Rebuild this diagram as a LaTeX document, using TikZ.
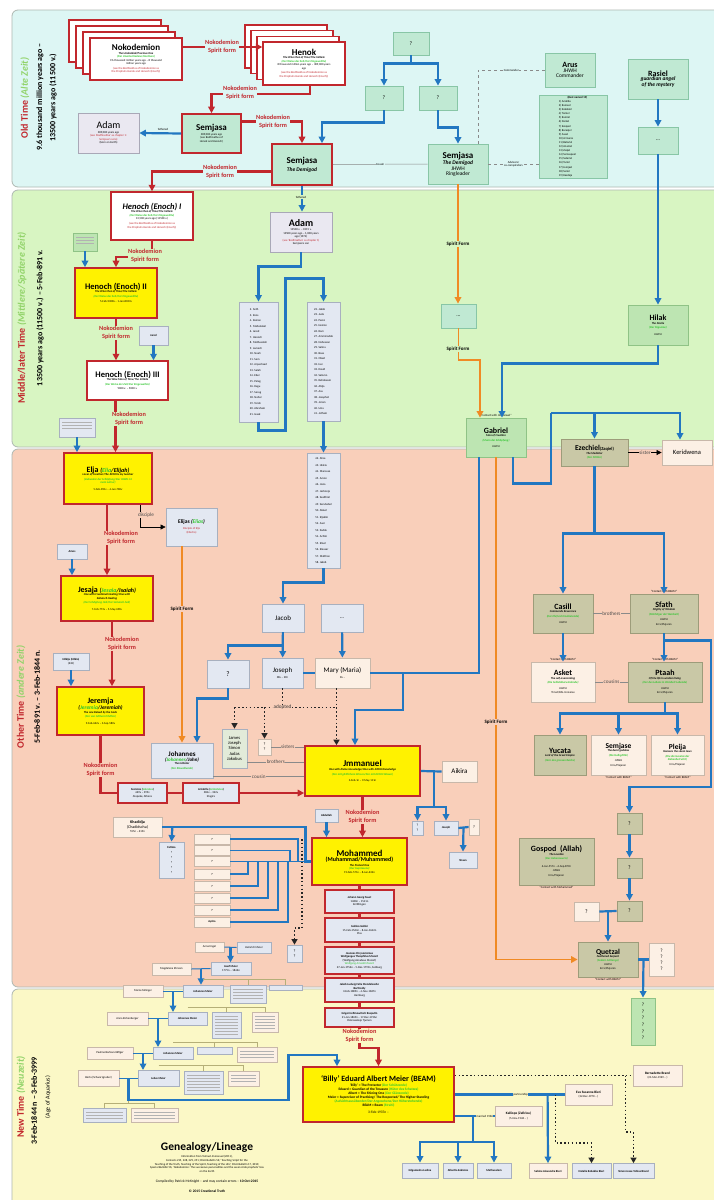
\documentclass[tikz,border=0pt]{standalone}
\usepackage{fontspec}
\setmainfont{Carlito}
\usepackage{tikz}
\usetikzlibrary{arrows.meta, calc}
\definecolor{oldfill}{HTML}{DDF6F4}
\definecolor{midfill}{HTML}{D8F5C2}
\definecolor{othfill}{HTML}{F9CFBA}
\definecolor{newfill}{HTML}{FBF8C6}
\definecolor{bandline}{HTML}{AEB8B2}
\definecolor{redline}{HTML}{C1272D}
\definecolor{grn}{HTML}{2EC52E}
\definecolor{ltgrn}{HTML}{92D36A}
\definecolor{yelfill}{HTML}{FFF200}
\definecolor{tealfill}{HTML}{C0E9D3}
\definecolor{tealline}{HTML}{88C6A6}
\definecolor{grnfill}{HTML}{BDE5B2}
\definecolor{grnline}{HTML}{8FC386}
\definecolor{khfill}{HTML}{C9C8A6}
\definecolor{khline}{HTML}{9D9C7A}
\definecolor{crfill}{HTML}{FCF0E5}
\definecolor{crline}{HTML}{C8B8AA}
\definecolor{bgfill}{HTML}{E3E8F2}
\definecolor{bgline}{HTML}{A8B0BF}
\definecolor{lavfill}{HTML}{EAE8F1}
\definecolor{lavline}{HTML}{A9A8B7}
\definecolor{jamfill}{HTML}{E2EBD9}
\definecolor{bluline}{HTML}{2277C1}
\definecolor{orline}{HTML}{F08A24}
\definecolor{relgray}{HTML}{8A8A8A}
\definecolor{tanline}{HTML}{B5AF78}
\newcommand{\fH}{\fontsize{9}{10}\selectfont\bfseries}
\newcommand{\fM}{\normalfont\fontsize{8}{9}\selectfont\bfseries}
\newcommand{\fs}{\normalfont\fontsize{5.5}{6.5}\selectfont}
\newcommand{\ti}{\normalfont\fontsize{2.9}{3.5}\selectfont}
\newcommand{\tbi}{\ti\bfseries\itshape}
\newcommand{\tg}[1]{{\color{grn}#1}}
\newcommand{\tr}[1]{{\color{redline}#1}}
\tikzset{
  band/.style   = {rounded corners=6pt, draw=bandline, line width=0.8pt},
  bx/.style     = {rectangle, align=center, inner sep=1pt, line width=0.8pt, font=\fontsize{2.9}{3.5}\selectfont},
  redbx/.style  = {bx, draw=redline, line width=1.4pt, fill=white},
  redbg/.style  = {bx, draw=redline, line width=1.4pt, fill=bgfill},
  yelbx/.style  = {bx, draw=redline, line width=1.7pt, fill=yelfill},
  semred/.style = {bx, draw=redline, line width=1.6pt, fill=tealfill},
  tealbx/.style = {bx, draw=tealline, fill=tealfill},
  grnbx/.style  = {bx, draw=grnline, fill=grnfill},
  khbx/.style   = {bx, draw=khline, fill=khfill},
  crbx/.style   = {bx, draw=crline, fill=crfill},
  bgbx/.style   = {bx, draw=bgline, fill=bgfill},
  lavbx/.style  = {bx, draw=lavline, fill=lavfill},
  fake/.style   = {path picture={\foreach \j in {1,...,#1}{
      \draw[black!30, line width=0.6pt] ($(path picture bounding box.north west)+(3,1+3*\j)$)
        -- ($(path picture bounding box.north east)+(-3,1+3*\j)$);}}},
  sfl/.style    = {align=center, inner sep=0.5pt, text=redline, font=\bfseries\fontsize{6.3}{7.6}\selectfont},
  sfk/.style    = {inner sep=0.5pt, font=\bfseries\fontsize{5}{6}\selectfont},
  tl/.style     = {inner sep=0.5pt, align=center, font=\fontsize{3}{3.5}\selectfont},
  relbl/.style  = {inner sep=0.5pt, text=black!70, font=\fontsize{5.2}{6}\selectfont},
  bline/.style  = {draw=bluline, line width=2.2pt},
  bflow/.style  = {bline, -{Triangle[length=6.5pt, width=6.5pt]}},
  rline/.style  = {draw=redline, line width=2.1pt},
  rflow/.style  = {rline, -{Triangle[length=6.5pt, width=6.5pt]}},
  oflow/.style  = {draw=orline, line width=1.9pt, -{Triangle[length=6.5pt, width=6.5pt]}},
  rel/.style    = {draw=relgray, line width=0.5pt},
  dline/.style  = {draw=black!85, line width=1.5pt, dash pattern=on 1.5pt off 2.3pt},
  dflow/.style  = {dline, -{Triangle[length=5.5pt, width=6pt]}},
  tline/.style  = {draw=tanline, line width=0.8pt},
  cbeam/.style  = {label={[tl]above:``Contact with BEAM''}},
  cbeamb/.style = {label={[tl]below:``Contact with BEAM''}},
}
\begin{document}
\begin{tikzpicture}[x=1pt, y=-1pt]
\useasboundingbox (0,0) rectangle (714,1200);
\fill[white] (0,0) rectangle (714,1200);
% time bands
\draw[band, fill=oldfill] (12,10) rectangle (744,187);
\draw[band, fill=midfill] (12,190) rectangle (744,447);
\draw[band, fill=othfill] (12,449) rectangle (744,987);
\draw[band, fill=newfill] (12,989) rectangle (744,1230);
% band titles
\node[rotate=90, font=\bfseries\fontsize{10}{12}\selectfont] (tOld) at (25,98) {\textcolor{redline}{Old Time} \textcolor{ltgrn}{\itshape(Alte Zeit)}};
\node[rotate=90, font=\bfseries\fontsize{8}{9.5}\selectfont] (dOld1) at (40,97) {9.6 thousand million years ago –};
\node[rotate=90, font=\bfseries\fontsize{8}{9.5}\selectfont] (dOld2) at (53,98) {13500 years ago (11500 v.)};
\node[rotate=90, font=\bfseries\fontsize{10}{12}\selectfont] (tMid) at (22,318) {\textcolor{redline}{Middle/later Time} \textcolor{ltgrn}{\itshape(Mittlere/Spätere Zeit)}};
\node[rotate=90, font=\bfseries\fontsize{8}{9.5}\selectfont] (dMid) at (40,318) {13500 years ago (11500 v.) – 5-Feb-891 v.};
\node[rotate=90, font=\bfseries\fontsize{10}{12}\selectfont] (tOth) at (21,697) {\textcolor{redline}{Other Time} \textcolor{ltgrn}{\itshape(andere Zeit)}};
\node[rotate=90, font=\bfseries\fontsize{8}{9.5}\selectfont] (dOth) at (37,697) {5-Feb-891 v. – 3-Feb-1844 n.};
\node[rotate=90, font=\bfseries\fontsize{10}{12}\selectfont] (tNew) at (21,1097) {\textcolor{redline}{New Time} \textcolor{ltgrn}{\itshape(Neuzeit)}};
\node[rotate=90, font=\bfseries\fontsize{8}{9.5}\selectfont] (dNew) at (34,1101) {3-Feb-1844 n – 3-Feb-3999};
\node[rotate=90, font=\fontsize{6}{7}\selectfont] (aNew) at (48,1097) {(Age of Aquarius)};

% ---------- Old Time ----------
\foreach \k in {3,2,1}
  \node[redbx, minimum width=92, minimum height=42] (nok\k) at ({136-7*\k},{59-6*\k}) {};
\node[redbx, minimum width=92, minimum height=42] (nok) at (136,59)
  {\fH Nokodemion\\ \tbi The Undecided/Precious One\\ \tg{\tbi (Der Unentschiedene/Kostbare)}\\ \ti 9.6 thousand million years ago – 8 thousand\\ \ti million years ago\\[1pt] \tr{\ti (see the Bodhisattva of Nokodemion as}\\ \tr{\ti the Prophets Henok and Henoch (Enoch))}};
\foreach \k in {3,2,1}
  \node[redbx, minimum width=82, minimum height=43] (hen\k) at ({304-6*\k},{63.5-5.7*\k}) {};
\node[redbx, minimum width=82, minimum height=43] (henok) at (304,63.5)
  {\fH Henok\\ \tbi The Wise Man of Time/The Initiate\\ \tg{\tbi (Der Weise der Zeit/Der Eingeweihte)}\\ \ti 8 thousand million years ago – 389,000 years\\ \ti ago\\[1pt] \tr{\ti (see the Bodhisattva of Nokodemion as}\\ \tr{\ti the Prophets Henok and Henoch (Enoch))}};
\node[semred, minimum width=59, minimum height=39] (semA) at (211.5,133.5)
  {\fH Semjasa\\ \ti 389,000 years ago\\ \ti (see Bodhisattva of\\ \ti Henok and Henoch)};
\node[lavbx, minimum width=61, minimum height=40] (adamA) at (108.5,133)
  {{\fontsize{10}{11}\selectfont Adam}\\[1pt] \ti 389,000 years ago\\ \tr{\ti (see `Bodhisattva' as chapter 1:}\\ \tr{\ti Semjasa's sons)}\\ \ti (born on Earth)};
\node[semred, minimum width=60, minimum height=41] (semB) at (302,164.5)
  {\fH Semjasa\\[2pt] \fs\bfseries\itshape The Demigod};
\node[tealbx, minimum width=36, minimum height=23] (qtop) at (411,43.5) {\fs ?};
\node[tealbx, minimum width=38, minimum height=24] (qleft) at (384,98) {\fs ?};
\node[tealbx, minimum width=38, minimum height=24] (qright) at (438,98) {\fs ?};
\node[tealbx, minimum width=60, minimum height=40] (semC) at (458,164)
  {\fH Semjasa\\ \fs\bfseries\itshape The Demigod\\ \fs JHWH\\ \fs Ringleader};
\node[tealbx, minimum width=50, minimum height=34] (arus) at (570,70)
  {\fM Arus\\ \fs JHWH\\ \fs Commander};
\node[tealbx, minimum width=68, minimum height=83, align=left] (list19) at (573,136.5)
  {\ti\bfseries\quad\quad\quad (Best named 19)\\[0.6pt] \ti 1) Arakiba\\[0.6pt] \ti 2) Rameel\\[0.6pt] \ti 3) Kokabiel\\[0.6pt] \ti 4) Tamiel\\[0.6pt] \ti 5) Ramiel\\[0.6pt] \ti 6) Daniel\\[0.6pt] \ti 7) Ezeqeel\\[0.6pt] \ti 8) Baraqiel\\[0.6pt] \ti 9) Asael\\[0.6pt] \ti 10) Armaros\\[0.6pt] \ti 11) Batariel\\[0.6pt] \ti 12) Ananiel\\[0.6pt] \ti 13) Zaqiel\\[0.6pt] \ti 14) Samsapeel\\[0.6pt] \ti 15) Satariel\\[0.6pt] \ti 16) Turiel\\[0.6pt] \ti 17) Jomjael\\[0.6pt] \ti 18) Sariel\\[0.6pt] \ti 19) Kasdeja};
\node[tealbx, minimum width=60, minimum height=40] (rasiel) at (658,79)
  {\fM Rasiel\\ \fs\bfseries\itshape guardian angel\\ \fs\bfseries\itshape of the mystery};
\node[tealbx, minimum width=40, minimum height=27] (dotsA) at (658,140.5) {\fs ...};

% ---------- Middle/later Time ----------
\node[redbx, minimum width=82, minimum height=48] (henI) at (152,216)
  {{\fontsize{8.5}{9.5}\selectfont\bfseries\itshape Henoch (Enoch) I}\\ \tbi The Wise Man of Time/The Initiate\\ \tg{\tbi (Der Weise der Zeit/Der Eingeweihte)}\\ \ti 13,500 years ago (11500 v.)\\[1pt] \tr{\ti (see the Bodhisattva of Nokodemion as}\\[1pt] \tr{\ti the Prophets Henok and Henoch (Enoch))}};
\node[grnbx, minimum width=24, minimum height=18, fake=3] (kristan) at (85,242) {};
\node[yelbx, minimum width=82, minimum height=50] (henII) at (116,293)
  {{\fontsize{8.5}{9.5}\selectfont\bfseries Henoch (Enoch) II}\\ \tbi The Wise Man of Time/The Initiate\\[1pt] \tg{\tbi (Der Weise der Zeit/Der Eingeweihte)}\\[2pt] \ti 5-Feb-9308v – 1-Jan-8963v};
\node[bgbx, minimum width=29, minimum height=19] (jared) at (153.5,335.5) {\ti\bfseries Jared};
\node[redbx, minimum width=81, minimum height=39] (henIII) at (127.5,380.5)
  {{\fontsize{8.5}{9.5}\selectfont\bfseries Henoch (Enoch) III}\\ \tbi The Wise Man of Time/The Initiate\\[1pt] \tg{\tbi (Der Weise der Zeit/Der Eingeweihte)}\\[1pt] \ti 9000 v. – 5000 v.};
\node[bgbx, minimum width=36, minimum height=19, fake=3] (irad) at (77,427.5) {};
\node[lavbx, minimum width=62, minimum height=40] (adamB) at (301,232)
  {{\fontsize{10}{11}\selectfont\bfseries Adam}\\[1pt] \ti 13500 v. – 9415 v.\\ \ti 13500 years ago – 1,000 years\\ \ti ago (1974)\\ \tr{\ti (see `Bodhisattva' as chapter 1)}\\ \ti Semjasa's son};
\node[bgbx, minimum width=39, minimum height=120, align=left] (listA) at (258.5,362)
  {\ti 2. Seth\\[2pt] \ti 3. Enos\\[2pt] \ti 4. Kainan\\[2pt] \ti 5. Mahalaleel\\[2pt] \ti 6. Jared\\[2pt] \ti 7. Henoch\\[2pt] \ti 8. Methusalah\\[2pt] \ti 9. Lamech\\[2pt] \ti 10. Noah\\[2pt] \ti 11. Sem\\[2pt] \ti 12. Arpachsad\\[2pt] \ti 13. Salah\\[2pt] \ti 14. Eber\\[2pt] \ti 15. Peleg\\[2pt] \ti 16. Regu\\[2pt] \ti 17. Serug\\[2pt] \ti 18. Nahor\\[2pt] \ti 19. Terah\\[2pt] \ti 20. Abraham\\[2pt] \ti 21. Isaak};
\node[bgbx, minimum width=33, minimum height=119, align=left] (listB) at (323.5,361.5)
  {\ti 22. Jakob\\[2pt] \ti 23. Juda\\[2pt] \ti 24. Perez\\[2pt] \ti 25. Hezron\\[2pt] \ti 26. Ram\\[2pt] \ti 27. Amminadab\\[2pt] \ti 28. Nahesson\\[2pt] \ti 29. Salma\\[2pt] \ti 30. Boas\\[2pt] \ti 31. Obed\\[2pt] \ti 32. Isai\\[2pt] \ti 33. David\\[2pt] \ti 34. Salomo\\[2pt] \ti 35. Rehabeam\\[2pt] \ti 36. Abija\\[2pt] \ti 37. Asa\\[2pt] \ti 38. Josaphat\\[2pt] \ti 39. Joram\\[2pt] \ti 40. Usia\\[2pt] \ti 41. Jotham};
\node[tealbx, minimum width=35, minimum height=24] (dotsB) at (458.5,316) {\fs ...};
\node[grnbx, minimum width=60, minimum height=40] (hilak) at (658,325)
  {\fM Hilak\\ \tbi The Docile\\[1pt] \tg{\tbi (Der Fügsame)}\\[3pt] \ti JHWH};
\node[grnbx, minimum width=60, minimum height=39, label={[tl]above:``Contact with Jmmanuel''}] (gabriel) at (496,437.5)
  {\fM Gabriel\\ \tbi Man of Creation\\[1pt] \tg{\tbi (Mann der Schöpfung)}\\[3pt] \ti JHWH};

% ---------- Other Time ----------
\node[yelbx, minimum width=88, minimum height=51] (elja) at (108,478.5)
  {{\fontsize{8}{9}\selectfont\bfseries Elja {\itshape\fontsize{6}{7}\selectfont(\tg{Elia}/Elijah)}}\\ \tbi Lover of Creation/The JHWH is my teacher\\[1pt] \tg{\tbi (Liebender der Schöpfung/Der JHWH ist}\\ \tg{\tbi mein Lehrer)}\\[3pt] \ti 5-Feb-891v – 4-Jun-780v};
\node[bgbx, minimum width=51, minimum height=38] (elijas) at (191.5,527)
  {{\fontsize{5.5}{6.5}\selectfont\bfseries Elijas {\itshape(\tg{Elias})}}\\[2pt] \tr{\ti Disciple of Elja}\\[1pt] \tr{\ti (Elischa)}};
\node[bgbx, minimum width=30, minimum height=15] (amos) at (72,551.5) {\ti\bfseries Amos};
\node[yelbx, minimum width=92, minimum height=45] (jesaja) at (107,598.5)
  {{\fontsize{8}{9}\selectfont\bfseries Jesaja {\itshape\fontsize{6}{7}\selectfont(\tg{Jesaia}/Isaiah)}}\\ \tbi One with Creational Healing/One with\\ \tbi Sohaisch Healing\\[1pt] \tg{\tbi (Der Schöpfung Heil/Der Sohaisch-heil)}\\[3pt] \ti 7-Feb-773v – 5-May-690v};
\node[bgbx, minimum width=36, minimum height=17] (hilkija) at (71,661.5) {\ti\bfseries Hilkija (Hilkia)\\ \ti (632)};
\node[yelbx, minimum width=87, minimum height=48] (jeremja) at (100.5,711)
  {{\fontsize{8}{9}\selectfont\bfseries Jeremja}\\ {\fontsize{5.5}{6.5}\selectfont\bfseries\itshape (\tg{Jeremia}/Jeremiah)}\\ \tbi The one Raised by the Gods\\[1pt] \tg{\tbi (Der von Göttern Erhöhte)}\\[3pt] \ti 9-Feb-662v – 3-Sep-580v};
\node[bgbx, minimum width=33, minimum height=115, align=left] (listC) at (323.5,510.5)
  {\ti 42. Ahas\\[3pt] \ti 43. Hiskia\\[3pt] \ti 44. Manasse\\[3pt] \ti 45. Amon\\[3pt] \ti 46. Josia\\[3pt] \ti 47. Jechonja\\[3pt] \ti 48. Sealthiel\\[3pt] \ti 49. Serubabel\\[3pt] \ti 50. Abiud\\[3pt] \ti 51. Eljakim\\[3pt] \ti 52. Asor\\[3pt] \ti 53. Zadok\\[3pt] \ti 54. Achim\\[3pt] \ti 55. Eliud\\[3pt] \ti 56. Eleasar\\[3pt] \ti 57. Matthan\\[3pt] \ti 58. Jakob};
\node[bgbx, minimum width=42, minimum height=28] (jacob) at (283,618) {\fontsize{7}{8}\selectfont Jacob};
\node[bgbx, minimum width=42, minimum height=28] (dotsC) at (342,618) {\fs ...};
\node[bgbx, minimum width=42, minimum height=28] (qbox) at (228,674) {\fontsize{7}{8}\selectfont ?};
\node[bgbx, minimum width=41, minimum height=30] (joseph) at (282.5,673) {{\fontsize{7}{8}\selectfont Joseph}\\[3pt] \ti 38v – 29n};
\node[crbx, minimum width=55, minimum height=30] (mary) at (342.5,673) {{\fontsize{7}{8}\selectfont Mary (Maria)}\\[3pt] \ti 8v –};
\node[bx, draw=bgline, fill=jamfill, minimum width=25, minimum height=39, font=\fontsize{4.6}{5.4}\selectfont] (james) at (234.5,748.5)
  {James\\ Joseph\\ Simon\\ Judas\\ Jakobus};
\node[crbx, minimum width=13, minimum height=16, font=\fontsize{4}{5}\selectfont] (sisQ) at (264.5,747) {?\\ ?};
\node[yelbx, minimum width=115, minimum height=50] (jmmanuel) at (362.5,771)
  {{\fontsize{9}{10}\selectfont\bfseries Jmmanuel}\\[1pt] \tbi One with divine knowledge/One with JHWH Knowledge\\[1pt] \tg{\tbi (Der mit göttlichem Wissen/Der mit JHWH-Wissen)}\\[3pt] \ti 3-Feb-1n – 9-May-111n};
\node[bgbx, minimum width=62, minimum height=35] (johannes) at (182,760.5)
  {{\fontsize{7}{8}\selectfont\bfseries Johannes}\\ {\fontsize{5}{6}\selectfont\bfseries\itshape (\tg{Johannes}/John)}\\ \tbi The Initiator\\[1pt] \tg{\tbi (Der Einweihende)}};
\node[redbg, minimum width=49, minimum height=20] (sokrates) at (142.5,793)
  {\ti\bfseries Socrates (\tg{Sokrates})\\ \ti 469v – 399v\\ \ti Alopeke, Athens};
\node[redbg, minimum width=56, minimum height=20] (aristoteles) at (211,793)
  {\ti\bfseries Aristotle (\tg{Aristoteles})\\ \ti 384v – 322v\\ \ti Stagira};
\node[crbx, minimum width=35, minimum height=21] (aikira) at (459.5,771.5) {\fontsize{7}{8}\selectfont Aikira};
\node[bgbx, minimum width=11, minimum height=14, font=\fontsize{3.5}{4.5}\selectfont] (qq) at (417.5,828) {?\\ ?};
\node[bgbx, minimum width=24, minimum height=14] (josephB) at (446,828) {\ti\bfseries Joseph};
\node[crbx, minimum width=10, minimum height=16] (qs) at (474,827) {\fontsize{4}{5}\selectfont ?};
\node[bgbx, minimum width=28, minimum height=16] (shaan) at (463,860) {\ti\bfseries Shaan};
\node[bgbx, minimum width=23, minimum height=13] (abdullah) at (326.5,815.5) {\ti\bfseries Abdullah};
\node[yelbx, minimum width=95, minimum height=47] (mohammed) at (359.5,861.5)
  {{\fontsize{9}{10}\selectfont\bfseries Mohammed}\\ {\fontsize{6}{7}\selectfont\bfseries (Muhammad/Muhammed)}\\[1pt] \tbi The Praised One\\ \tg{\tbi (Der Gepriesene)}\\ \ti 19-Feb-571n – 8-Jun-632n};
\node[redbg, minimum width=69, minimum height=23] (faust) at (359.5,901.5)
  {\ti\bfseries Johann Georg Faust\\ \ti 1480n – 1541n\\ \ti Knittlingen};
\node[redbg, minimum width=69, minimum height=24] (galilei) at (359.5,930)
  {\ti\bfseries Galileo Galilei\\ \ti 15-Feb-1564n – 8-Jan-1642n\\ \ti Pisa};
\node[redbg, minimum width=69, minimum height=27] (mozart) at (359.5,960.5)
  {\ti\bfseries Joannes Chrysostomus\\ \ti\bfseries Wolfgangus Theophilus Mozart\\ \ti (Wolfgang Amadeus Mozart)\\ \tg{\ti Wolfgang Amadé Mozart}\\ \ti 27-Jan-1756n – 5-Dec-1791n, Salzburg};
\node[redbg, minimum width=69, minimum height=24] (mendelssohn) at (359.5,990)
  {\ti\bfseries Jakob Ludwig Felix Mendelssohn\\ \ti\bfseries Bartholdy\\ \ti 3-Feb-1809n – 4-Nov-1847n\\ \ti Hamburg};
\node[redbg, minimum width=69, minimum height=19] (rasputin) at (359.5,1017.5)
  {\ti\bfseries Grigori Jefimowitsch Rasputin\\ \ti 21-Jan-1869n – 17-Dec-1916n\\ \ti Pokrowskoje Tjumen};
\node[crbx, minimum width=49, minimum height=20] (khadidja) at (137.5,827)
  {{\fontsize{4}{5}\selectfont\bfseries Khadidja}\\ {\fontsize{4}{5}\selectfont (Chadidscha)}\\[1pt] \ti 555n – 619n};
\node[bgbx, minimum width=25, minimum height=36] (fatima) at (171.5,860)
  {\ti\bfseries Fatima\\[2pt] \ti ?\\[1.5pt] \ti ?\\[1.5pt] \ti ?\\[1.5pt] \ti ?\\[1.5pt] \ti ?};
\foreach \i/\yy/\nm in {1/839/?, 2/850.5/?, 3/861.5/?, 4/874/?, 5/886/?, 6/898/?, 7/910/?, 8/922/Aysha}
  \node[crbx, minimum width=36, minimum height=10] (w\i) at (212,\yy) {\ti\bfseries \nm};
\node[bgbx, minimum width=15, minimum height=17, font=\fontsize{4}{5}\selectfont] (qm) at (294.5,953.5) {?\\ ?};
% Ezechiel and his line
\node[khbx, minimum width=67, minimum height=27] (ezechiel) at (594.5,452.5)
  {{\fontsize{7.5}{8.5}\selectfont\bfseries Ezechiel}{\fontsize{4.5}{5}\selectfont\bfseries (Zaqiel)}\\ \tbi The Mediator\\[1pt] \tg{\tbi (Der Mittler)}};
\node[crbx, minimum width=50, minimum height=25] (keridwena) at (687,452.5) {\fontsize{6.5}{7.5}\selectfont Keridwena};
\node[khbx, minimum width=60, minimum height=39] (casill) at (563,613.5)
  {\fM Casill\\ \tbi Commands Reverence\\[1pt] \tg{\tbi (Der Ehrfurcht Gebietende)}\\[3pt] \ti JHWH};
\node[khbx, minimum width=68, minimum height=39, cbeam] (sfath) at (664,613.5)
  {\fM Sfath\\ \tbi Mighty of Wisdom\\[1pt] \tg{\tbi (Mächtiger der Weisheit)}\\[2pt] \ti JHWH\\[1pt] \ti Erra/Plejaren};
\node[crbx, minimum width=64, minimum height=40, cbeam] (asket) at (563,682)
  {\fM Asket\\ \tbi The self-overcoming\\[1pt] \tg{\tbi (Die Selbstüberwindende)}\\[2pt] \ti JHWH\\[1pt] \ti Timat/DAL Universe};
\node[khbx, minimum width=74, minimum height=40, cbeam] (ptaah) at (665,682)
  {\fM Ptaah\\ \tbi Of the life in wisdom living\\[1pt] \tg{\tbi (Der des Lebens in Weisheit Lebende)}\\[2pt] \ti JHWH\\[1pt] \ti Erra/Plejaren};
\node[khbx, minimum width=52, minimum height=40] (yucata) at (560,755)
  {\fM Yucata\\ \tbi Lord of the Great Empire\\[1pt] \tg{\tbi (Herr des grossen Reichs)}};
\node[crbx, minimum width=55, minimum height=40, cbeamb] (semjase) at (618.5,755)
  {{\fontsize{7.5}{8.5}\selectfont\bfseries Semjase}\\ \tbi The demi-goddess\\[1pt] \tg{\tbi (Die Halbgöttin)}\\[2pt] \ti JHWH\\[1pt] \ti Erra/Plejaren};
\node[crbx, minimum width=53, minimum height=40, cbeamb] (pleija) at (677.5,755)
  {{\fontsize{7.5}{8.5}\selectfont\bfseries Pleija}\\ \tbi Honours the seven laws\\[1pt] \tg{\tbi (Die die Gesetze der}\\ \tg{\tbi Siebenheit ehrt)}\\[1pt] \ti Erra/Plejaren};
\node[khbx, minimum width=25, minimum height=21] (qa) at (629.5,823.5) {\fs ?};
\node[khbx, minimum width=25, minimum height=20] (qb) at (629.5,868) {\fs ?};
\node[khbx, minimum width=25, minimum height=20] (qc) at (629.5,911) {\fs ?};
\node[crbx, minimum width=25, minimum height=19] (qw) at (586.5,911.5) {\fs ?};
\node[khbx, minimum width=75, minimum height=47, label={[tl]below:``Contact with Mohammed''}] (gospod) at (556.5,861.5)
  {\fM Gospod~~(Allah)\\ \tbi The Lovable\\[1pt] \tg{\tbi (Der Liebenswerte)}\\[4pt] \ti 6-Jan-557n – 6-Sep-879n\\[1pt] \ti JHWH\\[1pt] \ti Erra/Plejaren};
\node[khbx, minimum width=60, minimum height=35, cbeamb] (quetzal) at (608,959.5)
  {{\fontsize{7.5}{8.5}\selectfont\bfseries Quetzal}\\ \tbi Feathered Serpent\\ \tg{\tbi (Federn-Schlange)}\\[1pt] \ti JHWH\\ \ti Erra/Plejaren};
\node[crbx, minimum width=25, minimum height=33, font=\fontsize{5}{6}\selectfont] (q4) at (661.5,959.5) {?\\ ?\\ ?\\ ?};
\node[grnbx, minimum width=24, minimum height=47, font=\fontsize{5}{6.6}\selectfont] (q6) at (643,1021.5) {?\\ ?\\ ?\\ ?\\ ?\\ ?};

% Old Time connectors
\draw[rflow] ([yshift=12pt]nok.east) -- ([yshift=12pt]nok.east -| henok.west);
\node[sfl, fill=oldfill] (sf1) at (222,47) {Nokodemion\\Spirit form};
\draw[rflow] ([xshift=6pt]henok.south) -- ++(0,8) -| (semA.north);
\node[sfl, fill=oldfill] (sf2) at (240,93) {Nokodemion\\Spirit form};
\draw[bflow] (semA.west) -- (adamA.east);
\node[tl, fill=oldfill] (lfa1) at (163,129) {fathered};
\draw[rflow] ([yshift=12pt]semA.east) -| (semB.north);
\node[sfl, fill=oldfill] (sf3) at (273,121.5) {Nokodemion\\Spirit form};
\draw[rflow] ([yshift=-7pt]semB.west) -| (henI.north);
\node[sfl, fill=oldfill] (sf4) at (220,171.5) {Nokodemion\\Spirit form};
\draw[bflow] (qtop.south) -- ++(0,8) -| (qleft.north);
\draw[bflow] (qtop.south) -- ++(0,8) -| (qright.north);
\draw[bflow] (qleft.south) -- ++(0,12) -| ([xshift=20pt]semB.north);
\draw[bflow] (qright.south) -- ++(0,17) -| (semC.north);
\draw[rel] (semB.east) -- (semC.west) node[midway, tl, fill=oldfill] (lcous) {Cousin};
\draw[rel, dashed] ([xshift=20pt]semC.north) |- (arus.west) node[pos=0.75, tl, fill=oldfill] (lcom) {Commander};
\draw[rel, dashed] (semC.east) -- (semC.east -| list19.west) node[midway, tl, fill=oldfill] (ladv) {Advisors/\\co-conspirators};
\draw[bflow] (rasiel) -- (dotsA);

% Middle connectors
\draw[rflow] (henI.south) -- ++(0,16) -| (henII.north);
\node[sfl, fill=midfill] (sf5) at (145,255.5) {Nokodemion\\Spirit form};
\draw[bflow] (kristan) -- (kristan |- henII.north);
\draw[rflow] (henII) -- (henII |- henIII.north);
\node[sfl, fill=midfill] (sf6) at (116,333) {Nokodemion\\Spirit form};
\draw[bflow] (jared) -- (jared |- henIII.north);
\draw[rflow] ([xshift=-12pt]henIII.south) -- ([xshift=-12pt]henIII.south |- elja.north);
\node[sfl, fill=midfill] (sf7) at (129,419) {Nokodemion\\Spirit form};
\draw[bflow] (irad) -- (irad |- elja.north);
\draw[bflow] (semB.south) -- (semB.south |- adamB.north);
\node[tl, fill=midfill] (lfa2) at (301,197) {fathered};
\draw[bflow] (adamB.south) -- ++(0,14) -| (listA.north);
\draw[bflow] (listA.south) -- ++(0,8) -| ++(27,-152) -| (listB.north);
\draw[bflow] (listB) -- (listC);
\draw[bflow] (dotsA) -- (hilak);
\draw[oflow] (semC.south) -- (semC.south |- dotsB.north);
\node[sfk, fill=midfill] (sfo1) at (458,244) {Spirit Form};
\draw[oflow] (dotsB.south) -- ++(0,32) -| ([xshift=-16pt]gabriel.north);
\node[sfk, fill=midfill] (sfo2) at (458,349) {Spirit Form};
\draw[bflow] (hilak.south) -- ++(0,18) -| ([xshift=6pt]gabriel.north);

% Other Time connectors
\draw[bline] ([xshift=17pt]gabriel.south) -- ++(0,26) -| (551,413) coordinate (gz);
\draw[bflow] (gz) -| (ezechiel.north);
\draw[bflow] (gz) -| ([xshift=-7pt]keridwena.north);
\draw[-{Triangle[length=5pt, width=5pt]}, line width=0.6pt] (ezechiel.east) -- (keridwena.west) node[midway, relbl, fill=othfill] (lsis) {sister};
\draw[bline] (ezechiel.south) -- ++(0,67) coordinate (ez2);
\draw[bflow] (ez2) -| (casill.north);
\draw[bflow] (ez2) -| (sfath.north);
\draw[rel] (casill.east) -- (sfath.west) node[midway, relbl, fill=othfill] (lbr) {brothers};
\draw[bflow] (casill) -- (asket);
\draw[bflow] (sfath.south) -- (sfath.south |- ptaah.north);
\draw[rel] (asket.east) -- (ptaah.west) node[midway, relbl, fill=othfill] (lcs) {cousins};
\draw[bflow] (sfath.south) -- ++(0,7) -| (711,787) coordinate (sf2) -| (qa.north);
\draw[bline] (ptaah.south) -- ++(0,11) coordinate (pt2);
\draw[bflow] (pt2) -| (yucata.north);
\draw[bflow] (pt2) -| (semjase.north);
\draw[bflow] (pt2) -| (pleija.north);
\draw[bflow] (qa) -- (qb);
\draw[bflow] (qb) -- (qc);
\draw[bline] (qw.east) -- (qc.west);
\draw[bflow] ($(qw.east)!0.5!(qc.west)$) -- (quetzal.north);
\draw[bline] (quetzal.east) -- (q4.west);
\draw[bflow] ($(quetzal.east)!0.5!(q4.west)$) -- (q6.north);
\draw[oflow] (gabriel.south) |- (quetzal.west);
\node[sfk, fill=othfill] (sfo3) at (496,722) {Spirit Form};
\draw[bline] ([xshift=-17pt]gabriel.south) |- (mary.east);
\coordinate (gm) at (403,673);
\draw[bflow] (gm) -- ++(0,37) -| ([xshift=-7.5pt]jmmanuel.north);
\draw[rflow] ([xshift=-1pt]elja.south) -- ([xshift=-1pt]elja.south |- jesaja.north);
\node[sfl, fill=othfill] (sf8) at (121,538) {Nokodemion\\Spirit form};
\draw[-{Triangle[length=5pt, width=5pt]}, line width=0.6pt] ([xshift=32pt]elja.south) |- (elijas.west);
\node[relbl, fill=othfill] (ldis) at (146,515) {disciple};
\draw[bflow] (amos) -- (amos |- jesaja.north);
\draw[rflow] ([xshift=5pt]jesaja.south) -- ([xshift=5pt]jesaja.south |- jeremja.north);
\node[sfl, fill=othfill] (sf9) at (122,644) {Nokodemion\\Spirit form};
\draw[bflow] (hilkija) -- (hilkija |- jeremja.north);
\draw[oflow] ([xshift=-9.5pt]elijas.south) -- (johannes.north);
\node[sfk, fill=othfill] (sfo4) at (182,609) {Spirit Form};
\draw[bflow] (listC.south) -- ++(0,14) -| (jacob.north);
\draw[bflow] (jacob) -- (joseph);
\draw[bflow] (jacob.south) -- ++(0,13) -| (qbox.north);
\draw[bflow] (dotsC) -- (mary);
\draw[bline] (joseph.east) -- (mary.west);
\draw[bflow] (qbox.south) -- ++(0,10) -| ([xshift=15pt]johannes.north);
% adopted
\draw[dline] (joseph.south) -- ++(0,19) coordinate (ad1);
\draw[dline] ([xshift=-6pt]mary.south) -- ++(0,19) coordinate (ad2);
\draw[dline] (ad1 -| james.north) -- (ad2);
\node[relbl, text=black!80, fill=othfill] (ladp) at (ad1) {adopted};
\draw[dflow] (ad1 -| james.north) -- (james.north);
\draw[dflow] (ad1 -| sisQ.north) -- (sisQ.north);
\draw[dflow] (ad2) -- (ad2 |- jmmanuel.north);
\draw[rel] (sisQ.east) -- (sisQ.east -| jmmanuel.west) node[midway, relbl, fill=othfill] (lsi) {sisters};
\draw[rel] ([yshift=-13.5pt]james.east) -- ([yshift=-13.5pt]james.east -| jmmanuel.west) node[midway, relbl, fill=othfill] (lbro) {brothers};
\draw[rel] ([yshift=-16pt]johannes.east) -- ([yshift=-16pt]johannes.east -| jmmanuel.west) node[midway, relbl, fill=othfill] (lcou) {cousin};
\draw[rline] (jeremja.south) |- (sokrates.west);
\node[sfl, fill=othfill] (sf10) at (100.5,770) {Nokodemion\\Spirit form};
\draw[rline] (sokrates) -- (aristoteles);
\draw[rflow] (aristoteles.east) -- (aristoteles.east -| jmmanuel.west);
\draw[bline] (jmmanuel.east) -- (aikira.west);
\draw[bline] ($(jmmanuel.east)+(13,0)$) -- ++(0,36) coordinate (jb);
\draw[bflow] (jb) -| (qq.north);
\draw[bflow] (jb) -| (josephB.north);
\draw[bline] (josephB.east) -- (qs.west);
\draw[bflow] ($(josephB.east)!0.5!(qs.west)$) -- (shaan.north);
\draw[rflow] (jmmanuel.south) -- (jmmanuel.south |- mohammed.north);
\node[sfl, fill=othfill] (sf11) at (362.5,817) {Nokodemion\\Spirit form};
\draw[bflow] (abdullah) -- (abdullah |- mohammed.north);
\draw[rline] (mohammed) -- (faust);
\draw[rline] (faust) -- (galilei);
\draw[rline] (galilei) -- (mozart);
\draw[rline] (mozart) -- (mendelssohn);
\draw[rline] (mendelssohn) -- (rasputin);
% wives of Mohammed
\draw[bline] (khadidja.east) -- ++(143,0) |- (mohammed.west);
\draw[bflow] ($(khadidja.east)+(10,0)$) -- (fatima.north);
\foreach \i/\xx in {1/298, 2/290, 4/248, 5/258, 6/268, 7/278, 8/288}
  \draw[bline, line width=1.6pt] (w\i.east) -| (\xx,861.5) -- (mohammed.west);
\draw[bline, line width=1.6pt] (w3.east) -- (mohammed.west);
\draw[dflow] ($(mohammed.north west)+(-9,2)$) -- ++(0,89) -| (qm.north);

% ---------- Meier ancestors ----------
\node[crbx, minimum width=29, minimum height=10] (gA1) at (209.5,947) {\ti Anna Engel};
\node[bgbx, minimum width=34, minimum height=11] (gA2) at (254,947.5) {\ti Heinrich Meier};
\node[bgbx, minimum width=40, minimum height=13] (gJos) at (231,968.5) {\ti\bfseries Josef Meier\\ \ti 1775n – 1846n};
\node[crbx, minimum width=39, minimum height=12] (gB1) at (171.5,969) {\ti Magdalena Ehrsam};
\node[crbx, minimum width=40, minimum height=12] (gC1) at (143,991) {\ti Maria Zollinger};
\node[bgbx, minimum width=40, minimum height=12] (gC2) at (203,991) {\ti\bfseries Johannes Meier};
\node[bgbx, minimum width=36, minimum height=18, fake=4] (gC3) at (248,994) {};
\node[bgbx, minimum width=33, minimum height=5] (gC4) at (285.5,987.5) {};
\node[crbx, minimum width=41, minimum height=13] (gD1) at (127.5,1018.5) {\ti Anna Eichenberger};
\node[bgbx, minimum width=39, minimum height=13] (gD2) at (187.5,1018.5) {\ti\bfseries Johannes Meier};
\node[bgbx, minimum width=29, minimum height=26, fake=7] (gD3) at (226.5,1025) {};
\node[crbx, minimum width=26, minimum height=20, fake=5] (gD4) at (265,1022) {};
\node[crbx, minimum width=46, minimum height=12] (gE1) at (110,1053) {\ti Pauline Barbara Käfiger};
\node[bgbx, minimum width=40, minimum height=12] (gE2) at (173,1053) {\ti\bfseries Johannes Meier};
\node[bgbx, minimum width=35, minimum height=7] (gE3) at (214.5,1050.5) {};
\node[crbx, minimum width=40, minimum height=15, fake=3] (gE4) at (257,1054.5) {};
\node[crbx, minimum width=41, minimum height=16] (gF1) at (98.5,1078) {\ti Berta (Schwarzgruber)};
\node[bgbx, minimum width=41, minimum height=16] (gF2) at (158.5,1078) {\ti\bfseries Julius Meier};
\node[bgbx, minimum width=39, minimum height=23, fake=6] (gF3) at (203.5,1082.5) {};
\node[crbx, minimum width=31, minimum height=15, fake=3] (gF4) at (243.5,1078.5) {};
\node[bgbx, minimum width=43, minimum height=14, fake=3] (gG1) at (104.5,1115) {};
\node[crbx, minimum width=47, minimum height=14, fake=3] (gG2) at (154.5,1115) {};
\draw[bline, line width=1pt] (gA1.east) -- (gA2.west);
\draw[bflow] ($(gA1.east)!0.5!(gA2.west)$) -- ++(0,15);
\draw[bline, line width=1pt] (gB1.east) -- (gJos.west);
\draw[bflow] ($(gB1.east)!0.5!(gJos.west)$) -- ++(0,16);
\draw[bline, line width=1pt] (gC1.east) -- (gC2.west);
\draw[bflow] ($(gC1.east)!0.5!(gC2.west)$) -- ++(0,21);
\draw[bline, line width=1pt] (gD1.east) -- (gD2.west);
\draw[bflow] ($(gD1.east)!0.5!(gD2.west)$) -- ++(0,28.5);
\draw[bline, line width=1pt] (gE1.east) -- (gE2.west);
\draw[bflow] ($(gE1.east)!0.5!(gE2.west)$) -- ++(0,17);
\draw[bline, line width=1pt] (gF1.east) -- (gF2.west);
\draw[tline] (gC2.north) ++(0,-5) -| (gC4.north);
\draw[tline] (gC3.north) -- ++(0,-5);
\draw[tline] (gD2.north) ++(0,-4) -| (gD4.north);
\draw[tline] (gD3.north) -- ++(0,-4);
\draw[tline] (gE2.north) ++(0,-4) -| (gE4.north);
\draw[tline] (gE3.north) -- ++(0,-4);
\draw[tline] (gF2.north) ++(0,-4) -| (gF4.north);
\draw[tline] (gF3.north) -- ++(0,-5);
\draw[tline] ($(gF1.east)!0.5!(gF2.west)$) -- ++(0,26);
\draw[tline] (gG1.north) -- ++(0,-4) -| (gG2.north);

% ---------- New Time ----------
\node[yelbx, minimum width=151, minimum height=55, font=\fontsize{3.5}{4.1}\selectfont\bfseries] (meier) at (378.5,1094.5)
  {{\fontsize{8}{9}\selectfont\bfseries `Billy' Eduard Albert Meier (BEAM)}\\[1pt] `Billy' = The Protector \tg{(Der Schützende)}\\ Eduard = Guardian of the Treasure \tg{(Hüter des Schatzes)}\\ Albert = The Shining One \tg{(Der Glänzende)}\\ Meier = Supervisor of Practising/ The Respected/ The Higher-Standing\\ \tg{(Aufsichtsausübender/Der Angesehene/Der Höherstehende)}\\ BEAM = Beam \tg{(Strahl)}\\[3pt] \mdseries 3-Feb-1937n –};
\node[crbx, minimum width=49, minimum height=21] (bernadette) at (657.5,1075.5) {\fontsize{3.4}{4}\selectfont\bfseries Bernadette Brand\\[1pt] \ti (21-Mar-1969 – )};
\node[crbx, minimum width=47, minimum height=21] (eva) at (588.5,1094.5) {\fontsize{3.4}{4}\selectfont\bfseries Eva Susanna Bieri\\[1pt] \ti (22-Dec-1970 – )};
\node[crbx, minimum width=47, minimum height=20] (kalliope) at (518.5,1116) {\fontsize{3.4}{4}\selectfont\bfseries Kalliope (Zafiriou)\\[1pt] \ti (5-Nov-1948 – )};
\foreach \k/\cx/\w/\nm in {1/420/36/Gilgamesha Ladina, 2/458/30/Atlantis-Sokrates, 3/494/34/Methusalem}
  \node[bgbx, minimum width=\w, minimum height=15] (kid\k) at (\cx,1170.5) {\ti\bfseries \nm};
\node[crbx, minimum width=38, minimum height=15] (sabine) at (548,1171) {\ti\bfseries Sabine Alexandra Bieri};
\node[bgbx, minimum width=39, minimum height=15] (natbox) at (591.5,1171) {\ti\bfseries Natalie Rebekka Bieri};
\node[bgbx, minimum width=41, minimum height=15] (simbox) at (633.5,1171) {\ti\bfseries Simon Jesse Tobias Brand};
\draw[rflow] (rasputin.south) -- ++(0,20) -| (meier.north);
\node[sfl, fill=newfill] (sf12) at (359.5,1036) {Nokodemion\\Spirit form};
\draw[bflow] ($(gF1.east)!0.5!(gF2.west)$) -- ++(0,22) -| ++(160,-45) -| ([xshift=-41.5pt]meier.north);
\draw[dline] (meier.east |- bernadette.west) -- (bernadette.west);
\draw[bline] (meier.east |- eva.west) -- (eva.west) node[pos=0.6, tl, fill=newfill] (lpar) {partnership};
\draw[bline] (meier.east |- kalliope.west) -- (kalliope.west) node[pos=0.75, tl, fill=newfill] (lmar) {married 1966};
\draw[bline] ($(meier.east |- kalliope.west)+(18,0)$) -- ++(0,26) coordinate (kk);
\draw[bflow] (kk) -| (kid1.north);
\draw[bflow] (kk) -| (kid2.north);
\draw[bflow] (kk) -| (kid3.north);
\draw[bflow] ($(eva.west)+(-17,0)$) -- (sabine.north);
\draw[dflow] ($(eva.west)+(-9,0)$) -- ++(0,48.5) -| (natbox.north);
\draw[dflow] ($(bernadette.west)+(-7,0)$) -- ++(0,56.5) -| (simbox.north);
% title
\node[font=\bfseries\fontsize{11.5}{13}\selectfont] (title) at (207,1147) {Genealogy/Lineage};
\node[tl, font=\fontsize{2.9}{3.6}\selectfont] (src) at (207,1164) {Information from Talmud Jmmanuel (2011),\\ Contacts 215, 228, 229, 251; FIGU Bulletin 56; `Teaching Script for the\\ Teaching of the Truth, Teaching of the Spirit, Teaching of the Life'; FIGU Bulletin 17, 2010;\\ Special Bulletin 56; `Nokodemion: The successive personalities and the seven Arab prophets' box\\ on the Earth};
\node[font=\fontsize{3.6}{4.2}\selectfont] (comp) at (207,1182) {Compiled by Patrick McKnight – and may contain errors – \textbf{10-Oct-2015}};
\node[font=\bfseries\fontsize{3.6}{4.2}\selectfont] (copy) at (207,1191) {© 2015 Creational Truth};
\end{tikzpicture}
\end{document}
